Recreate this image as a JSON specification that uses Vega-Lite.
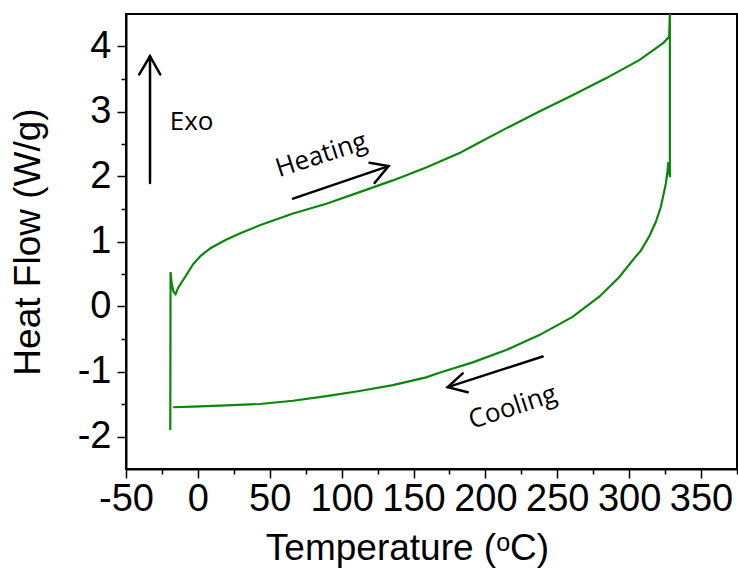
{
  "$schema": "https://vega.github.io/schema/vega-lite/v6.json",
  "width": 611,
  "height": 455,
  "autosize": "none",
  "padding": {"left": 126, "top": 14, "right": 1, "bottom": 105},
  "background": "white",
  "config": {
    "view": {"stroke": "black", "strokeWidth": 2},
    "axis": {
      "grid": false,
      "domainColor": "black",
      "domainWidth": 2,
      "tickColor": "black",
      "tickWidth": 1.5,
      "labelColor": "black",
      "titleColor": "black",
      "labelFont": "Liberation Sans",
      "titleFont": "Liberation Sans",
      "labelFontSize": 38,
      "titleFontSize": 37,
      "titleFontWeight": "normal"
    }
  },
  "datasets": {
    "curve": [
      {"i": 0, "T": -19.2, "HF": -1.9},
      {"i": 1, "T": -19.0, "HF": 0.53},
      {"i": 2, "T": -18.3, "HF": 0.36},
      {"i": 3, "T": -17.0, "HF": 0.23},
      {"i": 4, "T": -15.5, "HF": 0.19},
      {"i": 5, "T": -13.7, "HF": 0.29},
      {"i": 6, "T": -9.0, "HF": 0.45},
      {"i": 7, "T": -3.3, "HF": 0.65},
      {"i": 8, "T": 2.0, "HF": 0.78},
      {"i": 9, "T": 9.0, "HF": 0.9},
      {"i": 10, "T": 19.9, "HF": 1.03},
      {"i": 11, "T": 30.0, "HF": 1.13},
      {"i": 12, "T": 43.1, "HF": 1.25},
      {"i": 13, "T": 66.2, "HF": 1.43},
      {"i": 14, "T": 89.4, "HF": 1.58},
      {"i": 15, "T": 112.5, "HF": 1.76},
      {"i": 16, "T": 135.6, "HF": 1.94},
      {"i": 17, "T": 158.8, "HF": 2.14},
      {"i": 18, "T": 182.0, "HF": 2.36},
      {"i": 19, "T": 191.2, "HF": 2.47},
      {"i": 20, "T": 214.4, "HF": 2.74},
      {"i": 21, "T": 237.5, "HF": 3.0},
      {"i": 22, "T": 260.6, "HF": 3.25},
      {"i": 23, "T": 283.8, "HF": 3.51},
      {"i": 24, "T": 307.0, "HF": 3.79},
      {"i": 25, "T": 318.5, "HF": 3.97},
      {"i": 26, "T": 324.0, "HF": 4.06},
      {"i": 27, "T": 327.8, "HF": 4.15},
      {"i": 28, "T": 328.3, "HF": 4.5},
      {"i": 29, "T": 328.3, "HF": 1.99},
      {"i": 30, "T": 327.3, "HF": 2.22},
      {"i": 31, "T": 326.5, "HF": 2.05},
      {"i": 32, "T": 325.5, "HF": 1.89},
      {"i": 33, "T": 322.0, "HF": 1.53},
      {"i": 34, "T": 318.5, "HF": 1.3},
      {"i": 35, "T": 314.0, "HF": 1.08},
      {"i": 36, "T": 308.1, "HF": 0.86},
      {"i": 37, "T": 303.5, "HF": 0.74},
      {"i": 38, "T": 293.0, "HF": 0.45},
      {"i": 39, "T": 279.2, "HF": 0.15},
      {"i": 40, "T": 260.6, "HF": -0.16},
      {"i": 41, "T": 237.5, "HF": -0.44},
      {"i": 42, "T": 214.4, "HF": -0.67},
      {"i": 43, "T": 191.2, "HF": -0.86},
      {"i": 44, "T": 168.0, "HF": -1.02},
      {"i": 45, "T": 158.8, "HF": -1.09},
      {"i": 46, "T": 135.6, "HF": -1.21},
      {"i": 47, "T": 112.5, "HF": -1.3},
      {"i": 48, "T": 89.4, "HF": -1.38},
      {"i": 49, "T": 66.2, "HF": -1.45},
      {"i": 50, "T": 43.1, "HF": -1.5},
      {"i": 51, "T": 19.9, "HF": -1.52},
      {"i": 52, "T": -3.3, "HF": -1.54},
      {"i": 53, "T": -17.2, "HF": -1.55}
    ],
    "arrows": [
      {"part": "exo shaft", "i": 0, "T": -33.3, "HF": 1.9},
      {"part": "exo shaft", "i": 1, "T": -33.3, "HF": 3.85},
      {"part": "exo head", "i": 0, "T": -40.8, "HF": 3.57},
      {"part": "exo head", "i": 1, "T": -33.3, "HF": 3.85},
      {"part": "exo head", "i": 2, "T": -26.2, "HF": 3.57},
      {"part": "heat shaft", "i": 0, "T": 66.2, "HF": 1.66},
      {"part": "heat shaft", "i": 1, "T": 132.6, "HF": 2.16},
      {"part": "heat head", "i": 0, "T": 119.4, "HF": 2.21},
      {"part": "heat head", "i": 1, "T": 132.6, "HF": 2.16},
      {"part": "heat head", "i": 2, "T": 122.9, "HF": 1.9},
      {"part": "cool shaft", "i": 0, "T": 239.8, "HF": -0.77},
      {"part": "cool shaft", "i": 1, "T": 173.8, "HF": -1.24},
      {"part": "cool head", "i": 0, "T": 184.2, "HF": -1.03},
      {"part": "cool head", "i": 1, "T": 173.8, "HF": -1.24},
      {"part": "cool head", "i": 2, "T": 187.7, "HF": -1.32}
    ],
    "exo": [{"label": "Exo", "T": -4.4, "HF": 2.84}],
    "dir": [
      {"label": "Heating", "T": 85.9, "HF": 2.33},
      {"label": "Cooling", "T": 219.0, "HF": -1.55}
    ]
  },
  "layer": [
    {
      "data": {"name": "curve"},
      "mark": {"type": "line", "color": "#0a870a", "strokeWidth": 2.2, "clip": true},
      "encoding": {
        "x": {
          "field": "T", "type": "quantitative",
          "scale": {"domain": [-50, 375], "nice": false, "zero": false},
          "axis": {
            "values": [-50, 0, 50, 100, 150, 200, 250, 300, 350],
            "labelExpr": "'' + datum.value",
            "tickSize": 9, "labelPadding": 2, "labelFlush": false,
            "title": "Temperature (ᵒC)", "titlePadding": 12, "titleX": 281
          }
        },
        "y": {
          "field": "HF", "type": "quantitative",
          "scale": {"domain": [-2.5, 4.5], "nice": false, "zero": false},
          "axis": {
            "values": [-2, -1, 0, 1, 2, 3, 4],
            "labelExpr": "'' + datum.value",
            "tickSize": 9, "labelPadding": 6, "labelFlush": false,
            "title": "Heat Flow (W/g)", "titlePadding": 30
          }
        },
        "order": {"field": "i", "type": "quantitative"}
      }
    },
    {
      "data": {"name": "arrows"},
      "mark": {"type": "line", "color": "black", "strokeWidth": 2.5, "strokeCap": "round"},
      "encoding": {
        "x": {
          "field": "T", "type": "quantitative",
          "axis": {
            "orient": "bottom",
            "values": [-25, 25, 75, 125, 175, 225, 275, 325, 375],
            "tickSize": 5, "labels": false, "domain": false, "title": null
          }
        },
        "y": {
          "field": "HF", "type": "quantitative",
          "axis": {
            "orient": "left",
            "values": [-1.5, -0.5, 0.5, 1.5, 2.5, 3.5],
            "tickSize": 5, "labels": false, "domain": false, "title": null
          }
        },
        "detail": {"field": "part", "type": "nominal"},
        "order": {"field": "i", "type": "quantitative"}
      }
    },
    {
      "data": {"name": "exo"},
      "mark": {"type": "text", "font": "Open Sans", "fontSize": 26, "color": "black"},
      "encoding": {
        "x": {"field": "T", "type": "quantitative", "axis": null},
        "y": {"field": "HF", "type": "quantitative", "axis": null},
        "text": {"field": "label"}
      }
    },
    {
      "data": {"name": "dir"},
      "mark": {"type": "text", "font": "Open Sans", "fontSize": 26, "color": "black", "angle": 342},
      "encoding": {
        "x": {"field": "T", "type": "quantitative", "axis": null},
        "y": {"field": "HF", "type": "quantitative", "axis": null},
        "text": {"field": "label"}
      }
    }
  ],
  "resolve": {"axis": {"x": "independent", "y": "independent"}}
}
